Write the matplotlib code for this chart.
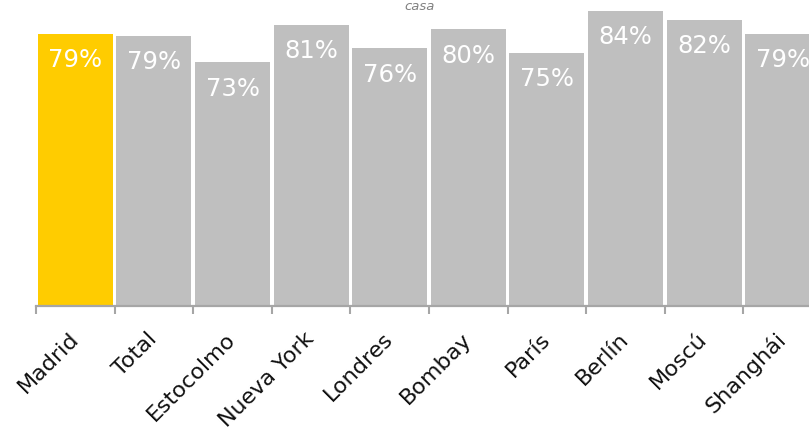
import matplotlib
matplotlib.use("Agg")
import numpy as np
import matplotlib.pyplot as plt

plt.rcParams["font.family"] = ["DejaVu Sans"]

CITIES = ["Madrid", "Total", "Estocolmo", "Nueva York", "Londres",
          "Bombay", "París", "Berlín", "Moscú", "Shanghái"]
VALUES = [79.0, 78.6, 72.9, 81.0, 75.9, 80.0, 74.9, 84.0, 82.1, 79.0]
HIGHLIGHT = "Madrid"
TITLE = "casa"

YELLOW = "#FFCC00"
GRAY = "#BFBFBF"


def main():
    fig = plt.figure(figsize=(8.09, 4.36), dpi=100)
    # axes runs a little past the right edge, like the reference
    ax = fig.add_axes([36 / 809, 130.5 / 436, 786 / 809, 303.6 / 436])

    x = np.arange(len(CITIES))
    colors = [YELLOW if c == HIGHLIGHT else GRAY for c in CITIES]
    ax.bar(x, VALUES, width=0.955, color=colors, edgecolor="none", zorder=2)

    for xi, v in zip(x, VALUES):
        ax.annotate(f"{round(v)}%", (xi, v), xytext=(0, -19), textcoords="offset points",
                    ha="center", va="center", color="white", fontsize=17.5)

    ax.set_xlim(-0.5, len(CITIES) - 0.5)
    ax.set_ylim(20, 86)

    for s in ["top", "right", "left"]:
        ax.spines[s].set_visible(False)
    ax.spines["bottom"].set_color("#A6A6A6")
    ax.spines["bottom"].set_linewidth(1.6)
    ax.set_yticks([])

    # boundary ticks (major), labels at bar centres (minor)
    ax.set_xticks(x - 0.5)
    ax.set_xticklabels([])
    ax.tick_params(axis="x", which="major", length=5.5, width=1.5, color="#A6A6A6")
    ax.set_xticks(x, minor=True)
    ax.set_xticklabels(CITIES, minor=True, rotation=45, ha="right", va="center",
                       rotation_mode="anchor", fontsize=16, color="#111111")
    ax.tick_params(axis="x", which="minor", length=0, pad=22)

    fig.text(420 / 809, 1 - 7 / 436, TITLE, ha="center", va="center",
             fontsize=9.5, style="italic", color="#808080")

    fig.savefig("out.png", dpi=100)
    plt.close(fig)


if __name__ == "__main__":
    main()
